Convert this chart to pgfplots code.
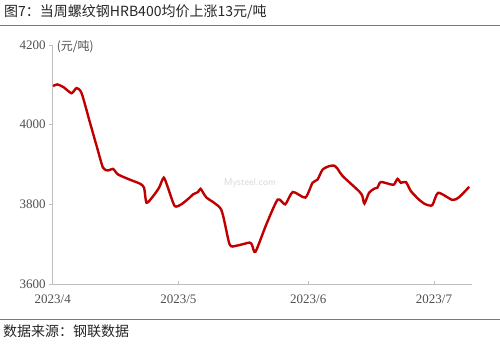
\documentclass[border=0pt]{standalone}
\usepackage{pgfplots}
\pgfplotsset{compat=1.18}
\usepackage{fontspec}
\setmainfont{Liberation Serif}
\newfontfamily\cjk{Noto Sans CJK SC}
\definecolor{linered}{RGB}{192,0,0}
\definecolor{axgray}{RGB}{191,191,191}
\definecolor{txtgray}{RGB}{80,80,80}
\definecolor{rulegray}{RGB}{120,120,120}
\begin{document}
\begin{tikzpicture}
\path[use as bounding box] (0,0) rectangle (500bp,-346bp);
\fill[white] (0,0) rectangle (500bp,-346bp);
\node[anchor=west, inner sep=0, text=black!85] at (4bp,-12bp) {\cjk\fontsize{14bp}{14bp}\selectfont 图7：当周螺纹钢HRB400均价上涨13元/吨};
\draw[rulegray, line width=1bp] (0,-25bp) -- (500bp,-25bp);
\draw[rulegray, line width=1bp] (0,-319bp) -- (500bp,-319bp);
\node[anchor=west, inner sep=0, text=black!85] at (3bp,-331bp) {\cjk\fontsize{14bp}{14bp}\selectfont 数据来源：钢联数据};
\node[text=black!15, inner sep=0] at (250bp,-183bp) {\sffamily\fontsize{10bp}{10bp}\selectfont Mysteel.com};
\begin{axis}[
  at={(52.7bp,-284bp)}, anchor=south west,
  scale only axis, width=419bp, height=239bp,
  xmin=0, xmax=100, ymin=3600, ymax=4200,
  axis x line*=bottom, axis y line*=left,
  axis line style={axgray, line width=0.8bp},
  every tick/.style={axgray, line width=0.8bp},
  tick align=outside,
  major tick length=3.5bp,
  x tick style={yshift=3.5bp},
  xtick={0,30,61,91},
  xticklabels={2023/4,2023/5,2023/6,2023/7},
  ytick={3600,3800,4000,4200},
  /pgf/number format/assume math mode=true,
  /pgf/number format/set thousands separator={},
  tick label style={text=txtgray, font=\fontsize{13bp}{13bp}\selectfont},
  x tick label style={yshift=-4bp},
  clip=false,
]
\addplot[linered, line width=2.4bp, smooth, tension=0.4] coordinates {
(0.1,4097) (1.1,4101) (2.6,4094) (4.5,4079) (5.7,4092) (6.9,4079)
(8.9,4005) (10.5,3946) (12.0,3892) (13.2,3885) (14.4,3889) (15.6,3875)
(18.4,3862) (20.8,3852) (21.8,3842) (22.4,3804) (24.0,3821) (25.4,3842)
(26.5,3867) (27.5,3842) (29.1,3796) (30.7,3800) (32.7,3817) (33.5,3825)
(34.7,3831) (35.3,3839) (36.7,3817) (40.2,3787) (42.2,3700) (43.8,3696)
(47.0,3704) (47.6,3697) (48.4,3681) (51.0,3750) (53.7,3812) (55.5,3800)
(57.3,3831) (60.3,3817) (62.0,3854) (63.2,3862) (64.4,3887) (66.0,3896)
(67.2,3897) (68.0,3889) (69.2,3871) (73.1,3833) (73.9,3821) (74.4,3802)
(75.5,3829) (76.7,3839) (77.5,3842) (78.3,3856) (80.7,3850) (81.5,3850)
(82.3,3864) (83.1,3854) (84.3,3856) (85.5,3833) (87.5,3811) (89.0,3800)
(90.6,3798) (92.0,3829) (95.4,3811) (97.0,3818) (99.4,3844)
};
\node[anchor=west, inner sep=0, text=txtgray] at (axis cs:0,4200) [xshift=4bp, yshift=-2bp] {\cjk\fontsize{12bp}{12bp}\selectfont (元/吨)};
\end{axis}
\end{tikzpicture}
\end{document}
